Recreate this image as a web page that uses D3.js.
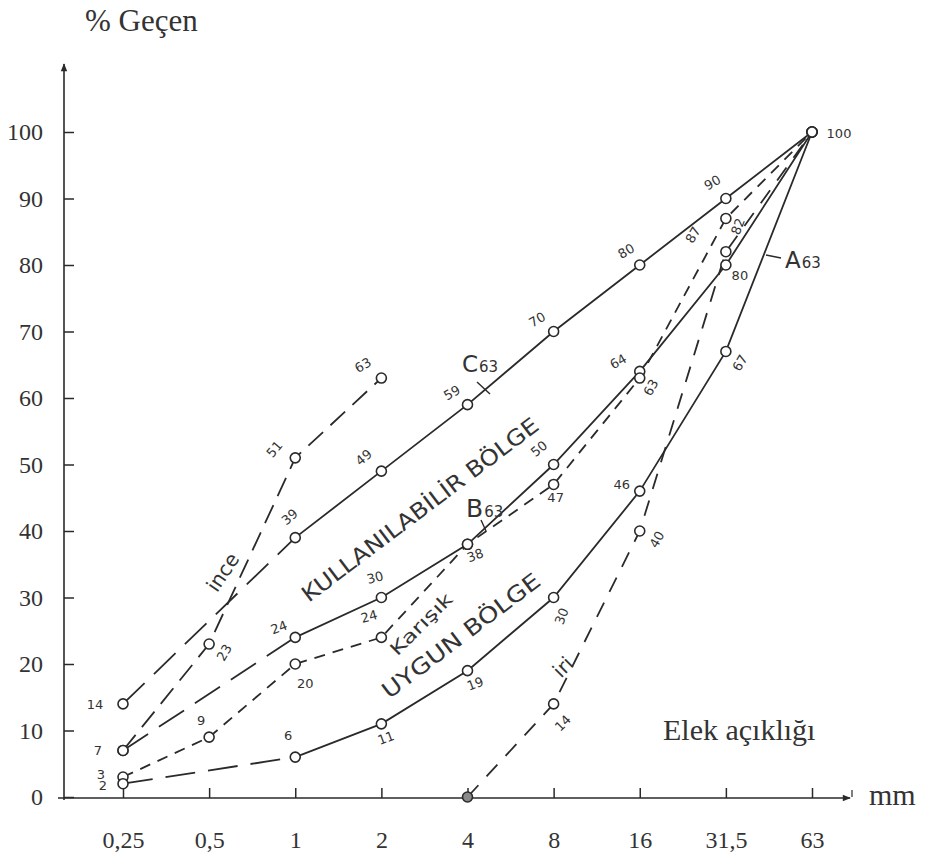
<!DOCTYPE html>
<html>
<head>
<meta charset="utf-8">
<script src="https://cdn.jsdelivr.net/npm/d3@7"></script>
<style>
  body { margin: 0; background: #fff; }
</style>
</head>
<body>
<div id="chart"></div>
<script>
// sieve sizes (mm) and their printed labels
const sieves = [0.25, 0.5, 1, 2, 4, 8, 16, 31.5, 63];
const sieveLabels = ["0,25", "0,5", "1", "2", "4", "8", "16", "31,5", "63"];
const yTicks = [0, 10, 20, 30, 40, 50, 60, 70, 80, 90, 100];

// % passing per sieve (null = no point on that sieve)
const a63 = [2, null, 6, 11, 19, 30, 46, 67, 100];
const b63 = [7, null, 24, 30, 38, 50, 64, 80, 100];
const c63 = [14, null, 39, 49, 59, 70, 80, 90, 100];
const ince = [7, 23, 51, 63, null, null, null, null, null];
const karisik = [3, 9, 20, 24, 38, 47, 63, 87, 100];
const iri = [null, null, null, null, 0, 14, 40, 82, 100];

// where the little value labels sit next to each circle: [dx, dy, rotate]
const labC = [[-28, 2, 0], null, [-5, -20, -40], [-17, -13, -40], [-15, -11, -30], [-16, -11, -30], [-13, -13, -30], [-13, -15, -30], [27, 2, 0]];
const labB = [[-25, 1, 0], null, [-16, -9, -20], [-6, -19, -15], [8, 12, -20], [-14, -15, -40], [-21, -9, -30], [14, 11, 0], null];
const labK = [[-22, -2, 0], [-8, -16, 0], [10, 20, 0], [-12, -20, -15], null, [2, 14, 0], [12, 10, -60], [-32, 17, -60], null];
const labI = [null, [16, 9, -60], [-20, -8, -50], [-18, -12, -30], null, null, null, null, null];
const labA = [[-20, 3, 0], null, [-7, -21, 0], [5, 15, -20], [8, 14, -20], [9, 19, -70], [-18, -6, 0], [15, 12, -60], null];
const labR = [null, null, null, null, null, [10, 20, -45], [18, 9, -60], [13, -25, -70], null];

const W = 931, H = 857;
const ink = '#2a2a2a';
const serif = '"Liberation Serif", "Times New Roman", serif';
const sans = '"DejaVu Sans", sans-serif';

const svg = d3.select('#chart').append('svg')
  .attr('width', W)
  .attr('height', H);

svg.append('defs').append('marker')
  .attr('id', 'arrow')
  .attr('viewBox', '0 0 10 10')
  .attr('refX', 9).attr('refY', 5)
  .attr('markerWidth', 14).attr('markerHeight', 8)
  .attr('markerUnits', 'userSpaceOnUse')
  .attr('orient', 'auto')
  .append('path')
  .attr('d', 'M0,1 L10,5 L0,9 Z')
  .attr('fill', ink);

const x = d3.scalePoint().domain(sieves).range([123, 812]);
const y = d3.scaleLinear().domain([0, 100]).range([797, 132]);
const axisX = 64, axisY = 798;

// axes
const gx = svg.append('g')
  .attr('transform', 'translate(0,' + axisY + ')')
  .call(d3.axisBottom(x).tickSize(-10).tickSizeOuter(0).tickPadding(33)
    .tickFormat((d, i) => sieveLabels[i]));
gx.select('.domain').remove();

const gy = svg.append('g')
  .attr('transform', 'translate(' + axisX + ',0)')
  .call(d3.axisLeft(y).tickValues(yTicks).tickSize(-10).tickSizeOuter(0).tickPadding(21)
    .tickFormat(d3.format('d')));
gy.select('.domain').remove();

[gx, gy].forEach(g => {
  g.attr('font-family', serif).attr('font-size', 24);
  g.selectAll('.tick line').attr('stroke', ink).attr('stroke-width', 1.5);
  g.selectAll('.tick text').attr('fill', '#333');
});

svg.append('line')
  .attr('x1', 58).attr('y1', axisY).attr('x2', 850).attr('y2', axisY)
  .attr('stroke', ink).attr('stroke-width', 1.6)
  .attr('marker-end', 'url(#arrow)');
svg.append('line')
  .attr('x1', 852).attr('y1', 790).attr('x2', 852).attr('y2', 797)
  .attr('stroke', ink).attr('stroke-width', 1.2);
svg.append('line')
  .attr('x1', axisX).attr('y1', 800).attr('x2', axisX).attr('y2', 64)
  .attr('stroke', ink).attr('stroke-width', 1.6)
  .attr('marker-end', 'url(#arrow)');

svg.append('text').attr('x', 85).attr('y', 31)
  .attr('font-family', serif).attr('font-size', 31).attr('fill', '#333')
  .text('% Geçen');
svg.append('text').attr('x', 663).attr('y', 740)
  .attr('font-family', serif).attr('font-size', 30).attr('fill', '#333')
  .text('Elek açıklığı');
svg.append('text').attr('x', 869).attr('y', 805)
  .attr('font-family', serif).attr('font-size', 30).attr('fill', '#333')
  .text('mm');

// curves
function pts(vals, from, to) {
  return sieves.map((s, i) => ({ s: s, v: vals[i] }))
    .slice(from, to + 1)
    .filter(d => d.v != null);
}
const line = d3.line().x(d => x(d.s)).y(d => y(d.v));

const segments = [
  { vals: c63, from: 0, to: 2, dash: '30,13' },
  { vals: c63, from: 2, to: 8, dash: null },
  { vals: b63, from: 0, to: 2, dash: '30,13' },
  { vals: b63, from: 2, to: 8, dash: null },
  { vals: a63, from: 0, to: 2, dash: '30,13' },
  { vals: a63, from: 2, to: 8, dash: null },
  { vals: ince, from: 0, to: 3, dash: '20,10' },
  { vals: karisik, from: 0, to: 8, dash: '11,8' },
  { vals: iri, from: 4, to: 8, dash: '16,12' }
];

svg.append('g').selectAll('path')
  .data(segments)
  .join('path')
  .attr('d', d => line(pts(d.vals, d.from, d.to)))
  .attr('fill', 'none')
  .attr('stroke', ink)
  .attr('stroke-width', 1.8)
  .attr('stroke-dasharray', d => d.dash);

// circles + value labels
const series = [
  { vals: c63, lab: labC },
  { vals: b63, lab: labB },
  { vals: karisik, lab: labK },
  { vals: ince, lab: labI },
  { vals: a63, lab: labA },
  { vals: iri, lab: labR }
];

const dots = [];
const labels = [];
series.forEach(sr => {
  sr.vals.forEach((v, i) => {
    if (v == null) return;
    dots.push({ s: sieves[i], v: v });
    if (sr.lab[i]) labels.push({ s: sieves[i], v: v, o: sr.lab[i] });
  });
});

svg.append('g').selectAll('circle')
  .data(dots)
  .join('circle')
  .attr('cx', d => x(d.s))
  .attr('cy', d => y(d.v))
  .attr('r', 5)
  .attr('fill', d => d.v === 0 ? '#8a8a8a' : '#fff')
  .attr('stroke', ink)
  .attr('stroke-width', 1.6);

svg.append('g').selectAll('text')
  .data(labels)
  .join('text')
  .attr('transform', d => 'translate(' + (x(d.s) + d.o[0]) + ',' + (y(d.v) + d.o[1]) + ') rotate(' + d.o[2] + ')')
  .attr('text-anchor', 'middle')
  .attr('dominant-baseline', 'middle')
  .attr('font-family', sans)
  .attr('font-size', 13)
  .attr('fill', '#333')
  .text(d => d.v);

// curve names
function curveName(letter, sub, px, py, size) {
  const t = svg.append('text').attr('x', px).attr('y', py)
    .attr('font-family', sans).attr('fill', '#333');
  t.append('tspan').attr('font-size', size).text(letter);
  t.append('tspan').attr('font-size', 15).attr('dx', 1).text(sub);
}
curveName('C', '63', 462, 372, 23);
curveName('B', '63', 466, 517, 25);
curveName('A', '63', 785, 268, 23);

const leaders = [[477, 382, 490, 394], [481, 520, 486, 531], [766, 255, 781, 258]];
svg.append('g').selectAll('line')
  .data(leaders)
  .join('line')
  .attr('x1', d => d[0]).attr('y1', d => d[1])
  .attr('x2', d => d[2]).attr('y2', d => d[3])
  .attr('stroke', ink).attr('stroke-width', 1.4);

// region / grading notes
const notes = [
  { t: 'KULLANILABİLİR BÖLGE', cx: 421, cy: 511, rot: -37, size: 22, len: 290 },
  { t: 'UYGUN BÖLGE', cx: 462, cy: 637, rot: -37, size: 22, len: 192 },
  { t: 'ince', cx: 224, cy: 573, rot: -56, size: 20, len: null },
  { t: 'Karışık', cx: 422, cy: 625, rot: -45, size: 18, len: 80 },
  { t: 'iri', cx: 564, cy: 668, rot: -45, size: 20, len: null }
];
svg.append('g').selectAll('text')
  .data(notes)
  .join('text')
  .attr('transform', d => 'translate(' + d.cx + ',' + d.cy + ') rotate(' + d.rot + ')')
  .attr('text-anchor', 'middle')
  .attr('dominant-baseline', 'middle')
  .attr('font-family', sans)
  .attr('font-size', d => d.size)
  .attr('fill', '#333')
  .attr('textLength', d => d.len)
  .attr('lengthAdjust', 'spacingAndGlyphs')
  .text(d => d.t);
</script>
</body>
</html>
